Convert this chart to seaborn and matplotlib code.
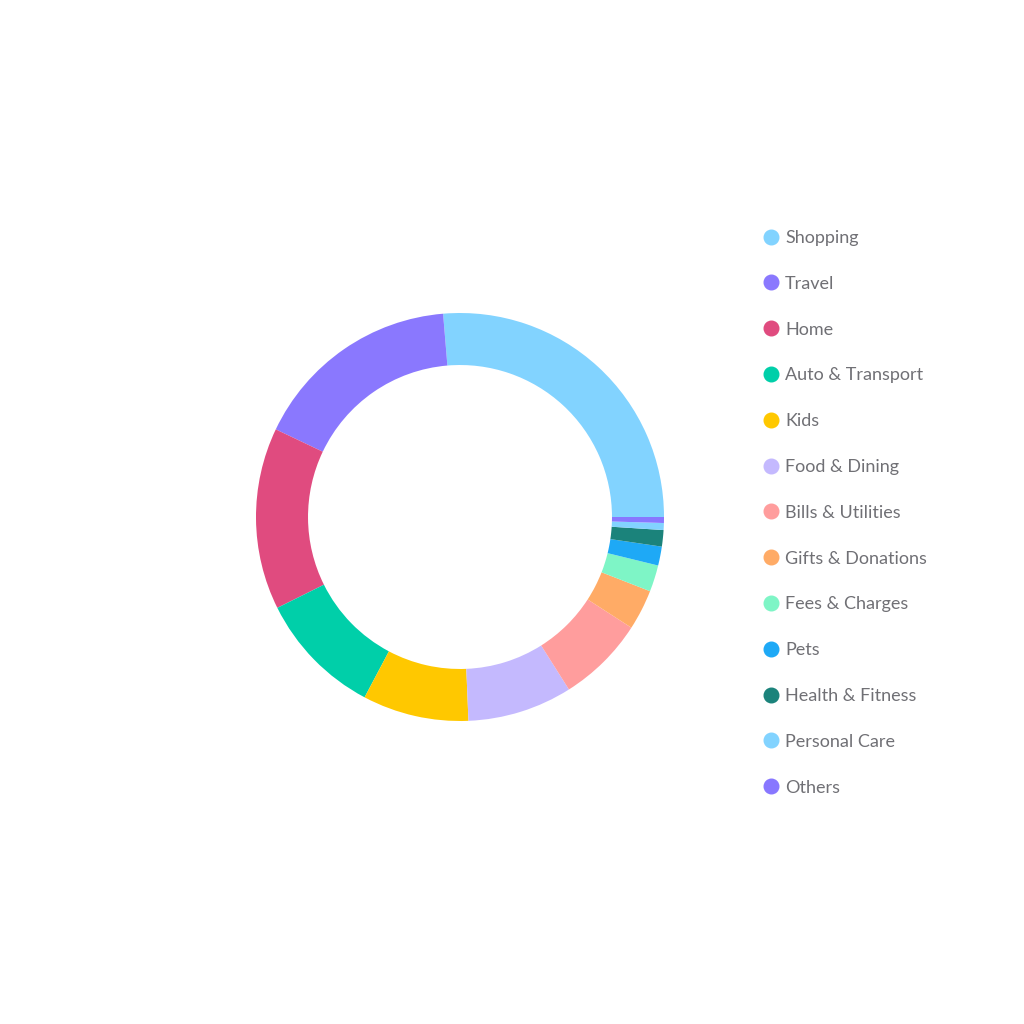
import matplotlib.pyplot as plt
import seaborn as sns
from matplotlib.lines import Line2D

categories = ['Shopping', 'Travel', 'Home', 'Auto & Transport', 'Kids',
              'Food & Dining', 'Bills & Utilities', 'Gifts & Donations',
              'Fees & Charges', 'Pets', 'Health & Fitness', 'Personal Care',
              'Others']
shares = [26.3, 16.6, 14.4, 9.9, 8.4, 8.3, 6.9, 3.2, 2.1, 1.5, 1.3, 0.55, 0.47]
colors = ['#82d3ff', '#8a78fe', '#e04b7f', '#00cfa9', '#ffc800',
          '#c4b9fe', '#ff9d9d', '#ffab66', '#7ef5c6', '#1ea9f6',
          '#1b837b', '#82d3ff', '#8877ff']

sns.set_theme(style='white')
plt.rcParams['font.family'] = ['Lato', 'DejaVu Sans']

fig = plt.figure(figsize=(10.24, 10.24), dpi=100)
fig.patch.set_facecolor('white')

ax = fig.add_axes([256 / 1024, 1 - 721 / 1024, 408 / 1024, 408 / 1024])
palette = sns.color_palette(colors)
ax.pie(shares, colors=palette, startangle=0, counterclock=True,
       radius=1.0, wedgeprops=dict(width=0.255, linewidth=0))
ax.set_xlim(-1, 1)
ax.set_ylim(-1, 1)
ax.set_aspect('equal')
ax.axis('off')

handles = [Line2D([0], [0], marker='o', linestyle='none', markersize=10.5,
                  markerfacecolor=c, markeredgecolor=c) for c in colors]
leg = fig.legend(handles, categories, loc='upper left',
                 bbox_to_anchor=(0.742, 1 - 230 / 1024), frameon=False,
                 fontsize=13, labelspacing=1.65, handletextpad=0.2,
                 handlelength=1.2, borderpad=0, borderaxespad=0)
for t in leg.get_texts():
    t.set_color('#707075')

fig.savefig('out.png', dpi=100, facecolor='white')
